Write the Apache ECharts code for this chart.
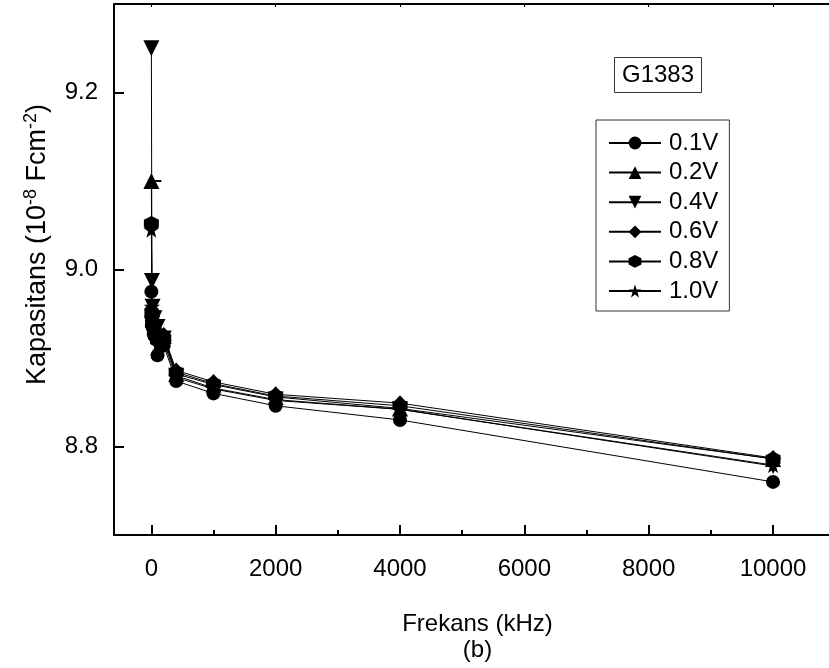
<!DOCTYPE html>
<html>
<head>
<meta charset="utf-8">
<script src="https://cdn.jsdelivr.net/npm/echarts@6/dist/echarts.min.js"></script>
<style>
html,body{margin:0;padding:0;background:#fff;}
#chart{width:829px;height:668px;}
</style>
</head>
<body>
<div id="chart"></div>
<script>
// Frequencies (kHz)
const freq = [1, 10, 20, 50, 100, 200, 400, 1000, 2000, 4000, 10000];
// Capacitance (10^-8 F cm^-2)
const v01 = [8.975, 8.945, 8.935, 8.925, 8.903, 8.914, 8.874, 8.860, 8.846, 8.830, 8.760];
const v02 = [9.100, 8.955, 8.945, 8.935, 8.930, 8.925, 8.882, 8.870, 8.856, 8.843, 8.786];
const v04 = [9.250, 8.987, 8.958, 8.945, 8.935, 8.922, 8.880, 8.866, 8.853, 8.842, 8.778];
const v06 = [8.955, 8.945, 8.935, 8.925, 8.918, 8.926, 8.886, 8.873, 8.859, 8.849, 8.787];
const v08 = [9.052, 8.950, 8.938, 8.930, 8.920, 8.922, 8.884, 8.871, 8.857, 8.846, 8.786];
const v10 = [9.045, 8.958, 8.940, 8.930, 8.915, 8.918, 8.878, 8.865, 8.852, 8.842, 8.779];

const seriesNames = ['0.1V', '0.2V', '0.4V', '0.6V', '0.8V', '1.0V'];
const seriesValues = [v01, v02, v04, v06, v08, v10];

const xMajorTicks = [0, 2000, 4000, 6000, 8000, 10000];
const xMinorTicks = [1000, 3000, 5000, 7000, 9000];
const yMajorTicks = [8.8, 9.0, 9.2];
const yMinorTicks = [8.9, 9.1];

const HEX = 'path://M0,-10 L8.66,-5 L8.66,5 L0,10 L-8.66,5 L-8.66,-5 Z';
const STAR = 'path://M0,-10 L2.35,-3.24 L9.51,-3.09 L3.8,1.24 L5.88,8.09 L0,4 L-5.88,8.09 L-3.8,1.24 L-9.51,-3.09 L-2.35,-3.24 Z';
const symbols = [
  {symbol: 'circle', size: 14, rotate: 0},
  {symbol: 'triangle', size: 16, rotate: 0},
  {symbol: 'triangle', size: 16, rotate: 180},
  {symbol: 'diamond', size: [15, 16], rotate: 0},
  {symbol: HEX, size: 15, rotate: 0},
  {symbol: STAR, size: 16, rotate: 0}
];

const FONT = 'Liberation Sans, Arial, sans-serif';
const FS = 24;
const chart = echarts.init(document.getElementById('chart'), null, {renderer: 'canvas'});

const xCommon = {
  type: 'value', min: -600, max: 10900,
  splitLine: {show: false}
};
const yCommon = {
  type: 'value', min: 8.70, max: 9.30,
  splitLine: {show: false}
};

const series = seriesNames.map((n, i) => ({
  name: n,
  type: 'line',
  data: freq.map((f, j) => [f, seriesValues[i][j]]),
  symbol: symbols[i].symbol,
  symbolSize: symbols[i].size,
  symbolRotate: symbols[i].rotate,
  showAllSymbol: true,
  lineStyle: {color: '#000', width: 1},
  itemStyle: {color: '#000'},
  emphasis: {disabled: true},
  animation: false
}));

chart.setOption({
  animation: false,
  backgroundColor: '#fff',
  textStyle: {fontFamily: FONT},
  title: {
    text: 'G1383',
    left: 614, top: 57,
    padding: [5, 8, 5, 8],
    borderColor: '#333', borderWidth: 1,
    textStyle: {fontFamily: FONT, fontSize: FS, fontWeight: 'normal', color: '#000', lineHeight: 26}
  },
  legend: {
    orient: 'vertical',
    left: 596, top: 120,
    padding: [11, 11, 8, 12],
    itemWidth: 52, itemHeight: 16,
    itemGap: 5.6,
    borderColor: '#333', borderWidth: 1,
    selectedMode: false,
    textStyle: {fontFamily: FONT, fontSize: FS, color: '#000', lineHeight: 24, padding: [0, 0, 0, 3]},
    data: seriesNames
  },
  grid: {left: 114, top: 4, right: 0, bottom: 130, containLabel: false},
  xAxis: [
    Object.assign({}, xCommon, {
      position: 'bottom',
      name: 'Frekans (kHz)\n(b)',
      nameLocation: 'middle',
      nameGap: 76,
      nameTextStyle: {fontFamily: FONT, fontSize: FS, color: '#000', lineHeight: 26, padding: [0, 0, 0, 12]},
      axisLine: {show: true, onZero: false, lineStyle: {color: '#000', width: 2}},
      axisTick: {show: true, inside: true, length: 10, lineStyle: {color: '#000', width: 2}, customValues: xMajorTicks},
      axisLabel: {show: true, margin: 22, fontFamily: FONT, fontSize: FS, color: '#000', customValues: xMajorTicks,
        formatter: v => String(Math.round(v))}
    }),
    Object.assign({}, xCommon, {
      position: 'bottom',
      axisLine: {show: false},
      axisTick: {show: true, inside: true, length: 5, lineStyle: {color: '#000', width: 2}, customValues: xMinorTicks},
      axisLabel: {show: false}
    }),
    Object.assign({}, xCommon, {
      position: 'top',
      axisLine: {show: true, onZero: false, lineStyle: {color: '#000', width: 2}},
      axisTick: {show: true, inside: true, length: 3, lineStyle: {color: '#000', width: 1}, customValues: xMajorTicks},
      axisLabel: {show: false}
    })
  ],
  yAxis: [
    Object.assign({}, yCommon, {
      position: 'left',
      name: 'Kapasitans (10{sup|-8} Fcm{sup|-2})',
      nameLocation: 'middle',
      nameGap: 61,
      nameTextStyle: {
        fontFamily: FONT, fontSize: 27, color: '#000',
        padding: [0, 0, 0, 50],
        rich: {sup: {fontFamily: FONT, fontSize: 18, color: '#000', verticalAlign: 'top', padding: [0, 0, 13, 0]}}
      },
      axisLine: {show: true, onZero: false, lineStyle: {color: '#000', width: 2}},
      axisTick: {show: true, inside: true, length: 10, lineStyle: {color: '#000', width: 2}, customValues: yMajorTicks},
      axisLabel: {show: true, margin: 16, fontFamily: FONT, fontSize: FS, color: '#000', customValues: yMajorTicks,
        formatter: v => Number(v).toFixed(1)}
    }),
    Object.assign({}, yCommon, {
      position: 'left',
      axisLine: {show: false},
      axisTick: {show: true, inside: true, length: 10, lineStyle: {color: '#000', width: 2}, customValues: yMinorTicks},
      axisLabel: {show: false}
    })
  ],
  series: series
});
</script>
</body>
</html>
